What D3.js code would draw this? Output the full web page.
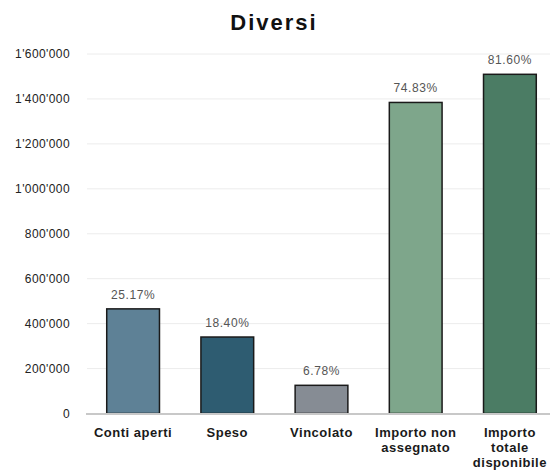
<!DOCTYPE html>
<html><head><meta charset="utf-8">
<script src="https://cdn.jsdelivr.net/npm/d3@7"></script>
<style>body{margin:0;background:#fff}svg{display:block}</style>
</head><body>
<script>
const title = "Diversi";
const categories = [["Conti aperti"], ["Speso"], ["Vincolato"], ["Importo non", "assegnato"], ["Importo", "totale", "disponibile"]];
const values = [465645, 340400, 125430, 1384355, 1509600];
const percents = ["25.17%", "18.40%", "6.78%", "74.83%", "81.60%"];
const colors = ["#5e8196", "#2e5c71", "#868c94", "#7ea68b", "#4b7c64"];
const yTicks = [0, 200000, 400000, 600000, 800000, 1000000, 1200000, 1400000, 1600000];

const W = 550, H = 470;
const svg = d3.select("body").append("svg").attr("width", W).attr("height", H)
  .style("font-family", "'Liberation Sans', Arial, Helvetica, sans-serif");

const x = d3.scaleBand().domain(d3.range(values.length)).range([86, 557]).paddingInner(0.44).paddingOuter(0.22);
const y = d3.scaleLinear().domain([0, 1600000]).range([413.5, 54]);
const fmt = v => d3.format(",")(v).replace(/,/g, "'");

svg.append("text").attr("x", 274).attr("y", 30).attr("text-anchor", "middle")
  .style("font-size", "22px").style("font-weight", "bold").style("letter-spacing", "2px").attr("fill", "#111").text(title);

// gridlines
svg.append("g").selectAll("line").data(yTicks.filter(d => d > 0)).join("line")
  .attr("x1", 87).attr("x2", 550).attr("y1", d => y(d)).attr("y2", d => y(d))
  .attr("stroke", "#ececec").attr("stroke-width", 1);

// y labels
svg.append("g").selectAll("text").data(yTicks).join("text")
  .attr("x", 70).attr("y", d => y(d)).attr("dy", "0.35em").attr("text-anchor", "end")
  .style("font-size", "12px").style("letter-spacing", "0.4px").attr("fill", "#222").text(fmt);

// bars
svg.append("g").selectAll("rect").data(values).join("rect")
  .attr("x", (d, i) => x(i)).attr("width", x.bandwidth())
  .attr("y", d => y(d)).attr("height", d => y(0) - y(d))
  .attr("fill", (d, i) => colors[i]).attr("stroke", "#1a1a1a").attr("stroke-width", 1.5);

// axis baseline
svg.append("line").attr("x1", 86).attr("x2", 550).attr("y1", y(0) + 0.5).attr("y2", y(0) + 0.5)
  .attr("stroke", "#c8c8c8").attr("stroke-width", 2);

// percent labels
svg.append("g").selectAll("text").data(values).join("text")
  .attr("x", (d, i) => x(i) + x.bandwidth() / 2).attr("y", d => y(d) - 10)
  .attr("text-anchor", "middle").style("font-size", "12px").style("letter-spacing", "0.6px")
  .attr("fill", "#555").text((d, i) => percents[i]);

// category labels
const cat = svg.append("g").selectAll("text").data(categories).join("text")
  .attr("x", (d, i) => x(i) + x.bandwidth() / 2).attr("y", 437)
  .attr("text-anchor", "middle").style("font-size", "13px").style("font-weight", "bold")
  .style("letter-spacing", "0.5px").attr("fill", "#1a1a1a");
cat.selectAll("tspan").data(d => d).join("tspan")
  .attr("x", function () { return d3.select(this.parentNode).attr("x"); })
  .attr("dy", (d, j) => j === 0 ? 0 : 15).text(d => d);
</script>
</body></html>
